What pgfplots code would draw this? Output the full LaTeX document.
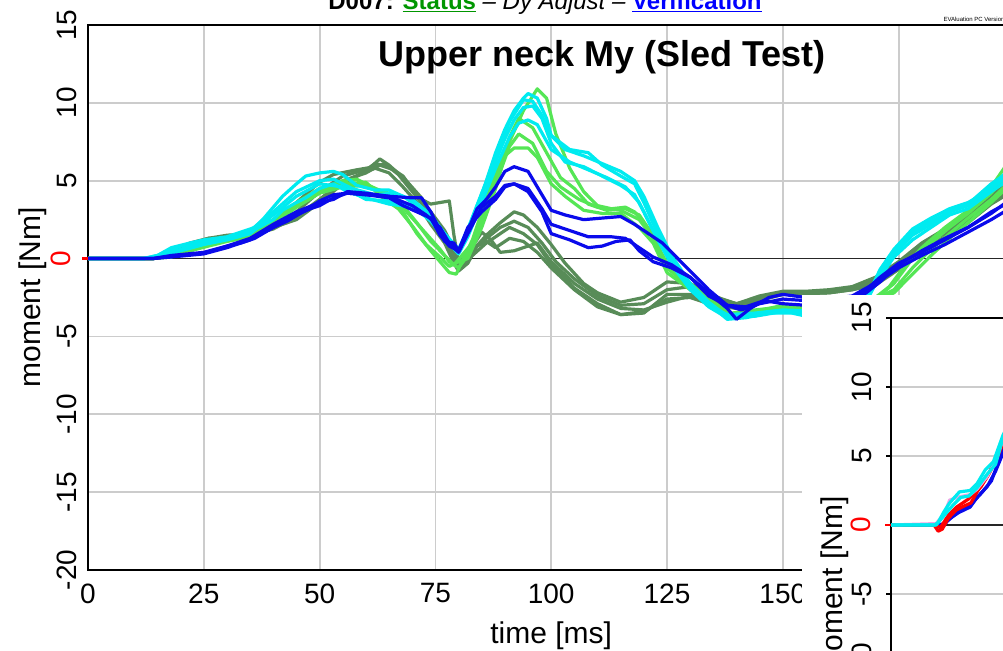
\documentclass[border=0pt]{standalone}
\usepackage{fontspec}
\setmainfont{Liberation Sans}
\usepackage{pgfplots}
\pgfplotsset{compat=1.18}
\definecolor{dgreen}{RGB}{88,140,88}
\definecolor{lgreen}{RGB}{85,230,85}
\definecolor{mycyan}{RGB}{0,235,240}
\definecolor{myblue}{RGB}{10,10,235}
\definecolor{mypink}{RGB}{235,165,230}
\definecolor{stgreen}{RGB}{0,150,0}
\pgfplotsset{
  chartbase/.style={
    scale only axis,
    axis line style={black, line width=1.5pt},
    grid=major,
    major grid style={draw=black!20, line width=1.8pt},
    ymin=-20, ymax=15,
    ytick={-20,-15,-10,-5,5,10,15},
    yticklabels={-20,-15,-10,-5,5,10,15},
    extra y ticks={0},
    extra y tick labels={\textcolor{red}{0}},
    extra y tick style={grid=major, major grid style={draw=black!85, line width=1.3pt}, tick style={red, line width=2.5pt}, major tick length=6pt},
    tick align=outside,
    ytick pos=left, xtick pos=bottom,
    tick label style={font=\fontsize{28}{30}\selectfont},
    yticklabel style={rotate=90, anchor=south, inner ysep=11pt},
    xticklabel style={yshift=-10pt},
    label style={font=\fontsize{30}{34}\selectfont},
    every axis plot/.append style={line width=3.2pt, line join=round},
  }
}
\begin{document}
\begin{tikzpicture}
\useasboundingbox (0,0) rectangle (1003pt,650pt);
\clip (0,0) rectangle (1003pt,650pt);
\begin{axis}[chartbase,
  at={(88pt,80pt)}, anchor=south west,
  width=926.4pt, height=545pt,
  xmin=0, xmax=200,
  xtick={0,25,50,75,100,125,150,175,200},
  xticklabels={0,25,50,75,100,125,150,175,200},
  major tick length=0pt,
  xlabel={time [ms]}, ylabel={moment [Nm]},
  xlabel style={at={(axis description cs:0.5,-0.134)}, anchor=base},
  ylabel style={at={(axis description cs:-0.0518,0.5)}, anchor=base},
]
% dark green
\addplot[dgreen] coordinates {(0,0)(14,0)(18,0.3)(22,0.9)(26,1.3)(30,1.4)(35,1.6)(40,2.1)(45,2.8)(50,3.6)(55,4.8)(60,5.6)(63,6.4)(65,6.0)(68,5.2)(71,4.0)(74,3.0)(77,1.8)(79,0.6)(80,-0.7)(82,0.3)(85,1.7)(87,1.2)(89,0.4)(92,0.5)(95,0.8)(97,1.0)(100,-0.2)(105,-1.6)(110,-2.6)(115,-3.2)(120,-3.3)(125,-2.8)(130,-2.4)(135,-2.7)(140,-3.0)(145,-2.6)(150,-2.3)(155,-2.2)(160,-2.1)(165,-1.9)(170,-1.5)(175,-0.4)(180,0.8)(185,1.7)(190,2.7)(195,3.9)(200,4.9)};
\addplot[dgreen] coordinates {(0,0)(14,0)(18,0.4)(22,1.0)(26,1.3)(30,1.5)(35,1.6)(40,2.0)(45,3.0)(50,4.3)(55,5.3)(60,5.7)(62,6.1)(65,5.9)(68,5.3)(70,4.5)(72,3.8)(74,3.5)(78,3.7)(79,1.5)(80,-0.2)(83,0.5)(86,1.5)(89,2.3)(92,3.0)(94,2.8)(97,2.0)(100,0.9)(103,-0.3)(107,-1.6)(110,-2.2)(115,-2.8)(120,-2.5)(125,-1.5)(130,-1.6)(135,-2.4)(140,-2.9)(145,-2.4)(150,-2.1)(155,-2.1)(160,-2.0)(165,-1.8)(170,-1.2)(175,-0.2)(180,1.0)(185,1.9)(190,3.0)(195,4.2)(200,5.3)};
\addplot[dgreen] coordinates {(0,0)(14,0)(18,0.3)(22,0.8)(26,1.2)(30,1.4)(35,1.7)(40,2.4)(45,3.6)(50,4.9)(53,5.4)(58,5.7)(62,5.9)(64,6.1)(67,5.4)(70,4.3)(73,3.2)(76,2.0)(78,0.8)(80,-0.6)(83,0.2)(86,1.0)(89,1.6)(91,2.0)(94,1.6)(97,0.9)(100,-0.4)(105,-1.9)(110,-2.9)(115,-3.6)(120,-3.5)(125,-2.3)(130,-2.3)(135,-2.8)(140,-3.2)(145,-2.5)(150,-2.3)(160,-2.2)(165,-2.0)(170,-1.6)(175,-0.6)(180,0.5)(185,1.4)(190,2.4)(195,3.6)(200,4.6)};
\addplot[dgreen] coordinates {(0,0)(14,0)(18,0.2)(22,0.7)(26,1.1)(30,1.3)(35,1.5)(40,1.9)(45,2.7)(50,3.8)(55,5.0)(60,5.5)(63,6.0)(66,5.7)(69,4.9)(72,3.9)(75,2.4)(78,0.5)(80,-0.4)(83,0.6)(86,1.3)(89,2.0)(92,2.4)(95,2.0)(98,1.0)(101,-0.2)(105,-1.3)(110,-2.4)(115,-3.0)(120,-2.9)(125,-2.0)(130,-1.8)(135,-2.5)(140,-2.9)(145,-2.6)(150,-2.2)(160,-2.1)(165,-1.9)(170,-1.4)(175,-0.3)(180,0.9)(185,1.6)(190,2.8)(195,4.0)(200,5.0)};
\addplot[dgreen] coordinates {(0,0)(14,0)(18,0.3)(22,0.8)(26,1.2)(30,1.4)(35,1.5)(40,2.0)(45,2.5)(50,3.6)(55,4.9)(60,5.6)(62,5.8)(65,5.5)(68,4.6)(71,3.6)(74,2.2)(77,1.0)(79,-0.3)(80,-0.8)(82,-0.3)(84,0.8)(86,1.1)(88,0.7)(91,1.3)(94,1.1)(97,0.4)(100,-0.6)(105,-2.0)(110,-3.1)(115,-3.6)(120,-3.4)(125,-2.6)(130,-2.5)(135,-3.0)(140,-3.2)(145,-2.7)(150,-2.3)(160,-2.2)(165,-2.0)(170,-1.7)(175,-0.7)(180,0.4)(185,1.3)(190,2.3)(195,3.5)(200,4.4)};
% light green
\addplot[lgreen] coordinates {(0,0)(14,0)(18,0.2)(22,0.5)(26,0.9)(30,1.2)(35,1.5)(40,2.3)(45,3.4)(50,4.4)(55,5.0)(58,5.1)(62,4.5)(65,4.0)(68,3.0)(71,1.6)(74,0.5)(76,-0.2)(78,-0.9)(79.5,-1.0)(81,0.0)(83,1.2)(85,3.0)(88,5.5)(91,7.5)(94,9.5)(97,10.9)(99,10.3)(101,8.0)(104,5.8)(107,4.3)(110,3.4)(113,3.2)(116,3.3)(118,3.0)(121,1.9)(125,-0.3)(130,-1.8)(135,-3.0)(138,-3.8)(142,-3.7)(146,-3.4)(150,-3.2)(155,-3.4)(160,-3.3)(165,-3.0)(170,-2.5)(173,-1.8)(176,-0.6)(180,0.7)(185,2.0)(190,3.1)(195,4.6)(198,5.9)(200,6.6)};
\addplot[lgreen] coordinates {(0,0)(14,0)(18,0.2)(22,0.6)(26,1.0)(30,1.2)(35,1.6)(40,2.5)(45,3.5)(50,4.3)(55,4.7)(58,4.8)(62,4.4)(65,4.2)(68,3.4)(71,2.3)(74,1.1)(77,0.2)(79,-0.4)(81,0.3)(83,1.0)(85,2.6)(88,5.0)(91,7.8)(93,9.0)(96,8.4)(99,6.8)(102,5.2)(105,4.5)(108,3.5)(112,3.1)(116,3.2)(119,2.8)(122,1.5)(125,-0.5)(130,-1.6)(135,-2.8)(139,-3.6)(143,-3.5)(148,-3.2)(155,-3.2)(160,-3.2)(165,-3.0)(170,-2.6)(174,-1.6)(178,0.0)(182,1.0)(186,2.0)(190,2.9)(195,4.2)(200,5.9)};
\addplot[lgreen] coordinates {(0,0)(14,0)(18,0.1)(22,0.5)(26,0.8)(30,1.1)(35,1.4)(40,2.2)(45,3.3)(50,4.2)(55,4.6)(60,4.7)(64,4.3)(67,3.6)(70,2.6)(73,1.6)(76,0.6)(78,-0.2)(80,-0.6)(82,0.2)(85,2.4)(88,4.8)(91,7.2)(93,8.0)(96,7.4)(99,5.6)(102,4.6)(106,3.8)(110,3.3)(115,3.1)(119,2.5)(122,1.3)(125,-0.6)(130,-1.9)(135,-3.1)(139,-3.7)(144,-3.4)(150,-3.0)(160,-3.1)(165,-2.9)(170,-2.6)(174,-2.0)(178,-0.6)(182,0.6)(186,1.6)(190,2.6)(195,3.8)(200,5.2)};
\addplot[lgreen] coordinates {(0,0)(14,0)(18,0.2)(22,0.5)(26,0.9)(30,1.2)(35,1.5)(40,2.4)(45,3.6)(50,4.5)(55,4.8)(60,4.9)(64,3.8)(67,3.2)(70,2.1)(73,0.9)(76,0.1)(78,-0.5)(80,-0.2)(82,0.0)(85,2.0)(88,4.5)(90,6.6)(92,7.1)(95,7.1)(97,6.5)(100,4.8)(103,4.0)(107,3.1)(111,2.9)(115,2.9)(119,2.0)(122,1.0)(125,-0.9)(130,-2.0)(135,-3.0)(139,-3.5)(144,-3.3)(150,-3.1)(160,-3.2)(165,-3.0)(170,-2.7)(174,-2.2)(178,-1.0)(182,0.2)(186,1.3)(190,2.3)(195,3.6)(200,5.0)};
% cyan
\addplot[mycyan] coordinates {(0,0)(12,0)(15,0.2)(18,0.7)(22,1.0)(25,1.2)(30,1.4)(33,1.7)(36,2.0)(38,2.6)(40,3.3)(42,4.0)(45,4.8)(47,5.3)(50,5.5)(53,5.6)(55,5.4)(58,4.7)(62,4.4)(65,4.4)(68,4.0)(70,3.6)(73,3.0)(76,2.0)(78,1.0)(80,0.4)(82,1.5)(84,3.3)(86,5.0)(88,6.8)(90,8.3)(92,9.5)(94,10.3)(95,10.6)(97,10.3)(99,9.0)(100,7.9)(104,7.0)(108,6.8)(111,6.0)(115,5.3)(118,4.8)(120,3.6)(123,1.6)(126,-0.1)(130,-1.7)(134,-2.9)(138,-3.9)(142,-3.8)(147,-3.5)(152,-3.5)(155,-3.7)(160,-3.7)(165,-3.3)(168,-2.6)(171,-0.7)(174,0.6)(178,1.9)(182,2.6)(186,3.2)(190,3.6)(193,4.1)(197,5.2)(200,6.0)};
\addplot[mycyan] coordinates {(0,0)(12,0)(15,0.1)(20,0.6)(25,1.0)(30,1.3)(35,1.7)(40,2.5)(42,3.1)(45,3.6)(47,3.9)(50,4.5)(53,4.8)(56,4.3)(60,3.9)(65,3.5)(70,3.3)(74,2.6)(77,1.6)(80,0.5)(82,1.8)(84,3.4)(87,5.5)(90,7.7)(92,8.9)(94,9.7)(96,9.8)(98,9.0)(100,7.4)(103,6.2)(107,5.9)(111,5.3)(115,4.7)(118,4.1)(120,3.0)(123,1.2)(126,-0.4)(130,-2.0)(134,-3.1)(138,-3.8)(142,-3.6)(148,-3.4)(155,-3.5)(160,-3.5)(165,-3.2)(168,-2.4)(171,-0.9)(174,0.3)(178,1.5)(182,2.2)(186,3.0)(190,3.4)(195,4.5)(200,5.6)};
\addplot[mycyan] coordinates {(0,0)(12,0)(15,0.2)(20,0.8)(25,1.1)(30,1.3)(35,1.8)(40,3.0)(45,4.3)(50,5.0)(53,5.1)(57,4.5)(62,4.1)(66,4.2)(70,3.8)(74,2.8)(77,1.6)(80,0.6)(82,1.9)(85,4.2)(88,6.3)(91,8.8)(94,10.2)(96,10.1)(98,9.2)(100,7.9)(103,7.0)(107,6.6)(111,6.1)(115,5.6)(118,5.0)(120,4.0)(123,2.0)(126,0.2)(130,-1.6)(134,-2.8)(138,-3.7)(144,-3.7)(150,-3.4)(155,-3.6)(165,-3.4)(168,-2.8)(171,-1.0)(174,0.4)(178,1.7)(182,2.4)(186,3.0)(190,3.5)(195,4.8)(200,5.8)};
\addplot[mycyan] coordinates {(0,0)(12,0)(15,0.1)(20,0.5)(25,0.9)(30,1.2)(35,1.6)(40,2.8)(45,4.0)(50,4.8)(55,4.6)(60,3.8)(65,3.7)(70,3.4)(74,2.4)(77,1.3)(80,0.3)(82,1.4)(85,3.6)(88,5.8)(91,7.8)(93,8.7)(95,8.9)(97,8.6)(100,7.0)(104,6.2)(108,5.7)(112,5.2)(116,4.6)(119,3.6)(122,1.8)(125,0.2)(130,-1.8)(134,-3.0)(138,-3.6)(144,-3.5)(150,-3.3)(160,-3.4)(165,-3.2)(168,-2.6)(171,-1.2)(174,0.1)(178,1.2)(182,2.0)(186,2.8)(190,3.2)(195,4.3)(200,5.3)};
% blue
\addplot[myblue] coordinates {(0,0)(14,0)(18,0.2)(25,0.4)(30,0.8)(33,1.0)(36,1.3)(40,2.0)(43,2.4)(47,3.1)(50,3.7)(53,4.1)(56,4.2)(60,4.1)(65,4.0)(70,3.9)(72,3.9)(74,3.0)(76,1.8)(77,1.1)(79,1.0)(80,0.5)(82,1.8)(84,3.2)(86,3.8)(88,4.6)(90,5.6)(92,5.9)(95,5.6)(97,4.6)(100,3.1)(103,2.8)(107,2.5)(111,2.6)(115,2.7)(118,2.2)(121,1.6)(124,1.0)(127,0.1)(130,-0.8)(134,-2.0)(138,-3.0)(141,-3.3)(145,-2.9)(150,-2.6)(155,-2.7)(160,-2.8)(165,-2.6)(168,-2.0)(171,-1.2)(175,-0.3)(180,0.4)(185,1.2)(190,2.0)(195,2.9)(200,4.0)};
\addplot[myblue] coordinates {(0,0)(14,0)(18,0.1)(25,0.3)(30,0.7)(35,1.2)(40,2.0)(45,2.8)(48,3.2)(50,3.4)(53,3.9)(56,4.2)(60,4.1)(65,3.9)(68,3.4)(71,3.0)(74,2.6)(76,1.5)(78,0.8)(80,0.5)(82,2.0)(85,3.0)(88,3.8)(90,4.6)(92,4.8)(95,4.3)(98,3.0)(100,1.6)(104,1.2)(108,0.7)(111,0.8)(114,1.1)(117,1.2)(119,0.5)(122,-0.2)(126,-0.6)(130,-1.2)(134,-2.2)(138,-3.2)(140,-3.9)(143,-3.2)(147,-2.5)(150,-2.3)(155,-2.5)(160,-2.6)(165,-2.4)(168,-1.9)(171,-1.4)(175,-0.6)(180,0.2)(185,0.9)(190,1.7)(195,2.5)(200,3.4)};
\addplot[myblue] coordinates {(0,0)(14,0)(18,0.15)(25,0.35)(30,0.8)(35,1.3)(40,2.2)(45,3.0)(50,3.6)(53,3.8)(56,4.3)(60,4.2)(65,4.0)(70,3.4)(73,2.8)(76,2.0)(78,1.0)(80,0.4)(82,1.6)(85,3.3)(88,4.0)(90,4.7)(92,4.8)(95,4.5)(98,3.2)(100,2.2)(104,1.8)(108,1.4)(113,1.4)(116,1.3)(119,0.7)(122,0.1)(126,-0.4)(130,-1.2)(134,-2.4)(138,-3.0)(142,-3.1)(146,-2.7)(150,-2.9)(155,-3.0)(160,-3.0)(165,-2.7)(168,-2.2)(171,-1.5)(175,-0.4)(180,0.5)(185,1.3)(190,2.0)(195,3.0)(200,3.8)};
\end{axis}
\node[anchor=base, font=\fontsize{36}{40}\selectfont\bfseries] at (602pt,583pt) {Upper neck My (Sled Test)};
\node[anchor=base, font=\fontsize{24}{28}\selectfont] at (545pt,640pt) {\textbf{D007: }\textcolor{stgreen}{\bfseries\underline{Status}}\textit{ -- Dy Adjust -- }\textcolor{blue}{\bfseries\underline{Verification}}};
\node[anchor=base west, font=\fontsize{6}{7}\selectfont] at (940pt,628pt) {EVAluation PC Version 2.5.0};
% inset panel
\fill[white] (802pt,-10pt) rectangle (1010pt,355pt);
\begin{axis}[chartbase,
  at={(891pt,332pt)}, anchor=north west,
  width=410pt, height=483pt,
  xmin=0, xmax=100,
  xtick={0,50,100}, xticklabels={0,50,100},
  major tick length=5pt,
  tick style={black, line width=1.2pt},
  yticklabel style={inner ysep=14pt},
]
\addplot[myblue] coordinates {(0,0)(11,0)(12.5,-0.2)(14,0.4)(16.5,0.9)(19.3,1.3)(21,2.0)(23.5,2.8)(25.5,3.9)(27.3,5.2)(28,5.6)};
\addplot[myblue] coordinates {(0,0)(11.5,0)(13,0.1)(15,0.6)(17,1.1)(19.5,1.5)(22,2.3)(24.5,3.2)(27.3,5.5)(28,5.9)};
\addplot[red] coordinates {(0,0)(10.5,0)(11.5,-0.45)(12.5,-0.3)(14,0.5)(16,1.1)(18,1.4)(19.5,1.6)(21,2.4)(23.5,3.5)(25.5,4.6)(27.3,5.9)(28,6.3)};
\addplot[red] coordinates {(0,0)(10.7,0)(12,-0.2)(14,0.7)(16,1.3)(19,1.9)(22,2.8)(24,3.8)(27.3,6.2)(28,6.6)};
\addplot[mypink] coordinates {(0,0)(11,0.1)(13,0.8)(14.3,1.8)(16,2.0)(19.3,2.2)(21,2.6)(23.4,3.5)(25.5,4.6)(27.3,6.2)(28,6.6)};
\addplot[mycyan] coordinates {(0,0)(11,0)(13,0.7)(15,1.4)(17,2.0)(19,2.1)(21,2.7)(23.5,3.7)(25.5,4.4)(27.3,6.3)(28,6.7)};
\addplot[mycyan] coordinates {(0,0)(10.7,0)(11.5,0.2)(13,1.0)(14.3,1.6)(16.7,2.4)(19.3,2.5)(21,3.0)(23,4.0)(25,4.6)(27.3,6.5)(28,6.9)};
\end{axis}
\node[rotate=90, anchor=base east, font=\fontsize{30}{34}\selectfont] at (842pt,157pt) {moment [Nm]};
\end{tikzpicture}
\end{document}
